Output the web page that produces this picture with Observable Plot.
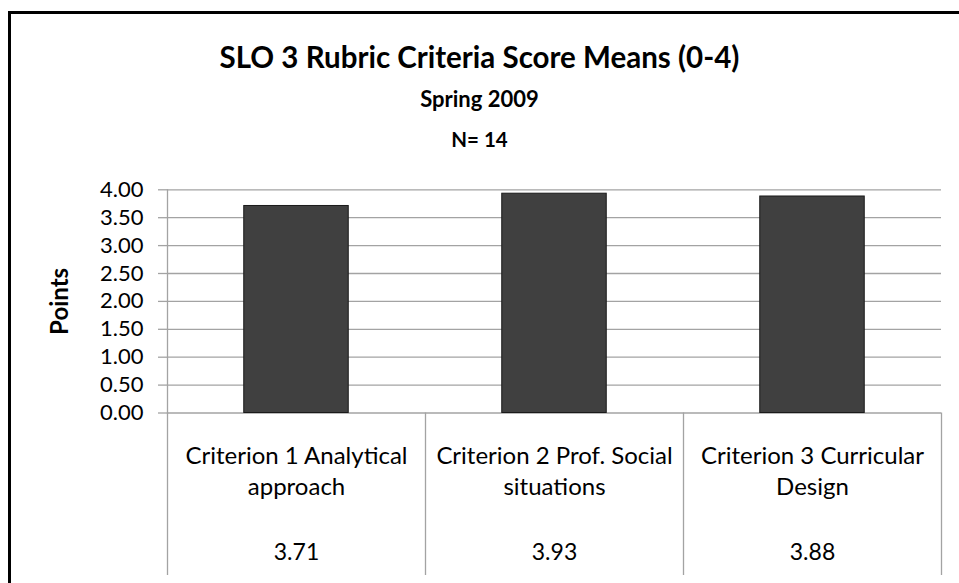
<!DOCTYPE html>
<html>
<head>
<meta charset="utf-8">
<script src="https://cdn.jsdelivr.net/npm/d3@7"></script>
<script src="https://cdn.jsdelivr.net/npm/@observablehq/plot@0.6"></script>
<style>
  html, body { margin: 0; padding: 0; background: #fff; width: 959px; height: 583px; overflow: hidden; }
  #frame { position: absolute; left: 8px; top: 11px; width: 1000px; height: 700px; border: 3px solid #000; box-sizing: border-box; }
  .ttl { position: absolute; left: 0; width: 959px; text-align: center; font-family: Lato, sans-serif; font-weight: bold; line-height: 1; color: #000; white-space: pre; }
  #chart { position: absolute; left: 0; top: 0; }
</style>
</head>
<body>
<div id="frame"></div>
<div class="ttl" id="t1" style="top:41.5px; font-size:29.5px;"></div>
<div class="ttl" id="t2" style="top:87.5px; font-size:22px;"></div>
<div class="ttl" id="t3" style="top:128.5px; font-size:20.5px;"></div>
<div id="chart"></div>
<script>
const titleText = "SLO 3 Rubric Criteria Score Means (0-4)";
const subtitleText = "Spring 2009";
const countText = "N= 14";
const yLabel = "Points";

const categories = [
  "Criterion 1 Analytical approach",
  "Criterion 2 Prof. Social situations",
  "Criterion 3 Curricular Design"
];
const categoryLabels = [
  "Criterion 1 Analytical\napproach",
  "Criterion 2 Prof. Social\nsituations",
  "Criterion 3 Curricular\nDesign"
];
const means = [3.71, 3.93, 3.88];
const yTicks = [0, 0.5, 1, 1.5, 2, 2.5, 3, 3.5, 4];

document.getElementById("t1").textContent = titleText;
document.getElementById("t2").textContent = subtitleText;
document.getElementById("t3").textContent = countText;

const W = 959, H = 583;
const mL = 167, mR = 18, mT = 189.3, mB = 170.5;
const step = (W - mL - mR) / categories.length;
const tableDepth = 162.5;
const gridColor = "#a3a3a3";

const data = categories.map((c, i) => ({category: c, label: categoryLabels[i], mean: means[i]}));

const chart = Plot.plot({
  width: W,
  height: H,
  marginTop: mT,
  marginBottom: mB,
  marginLeft: mL,
  marginRight: mR,
  style: {fontFamily: "Lato, sans-serif", fontSize: "20px", color: "#000", background: "transparent", overflow: "visible"},
  x: {domain: categories, paddingInner: 0.595, paddingOuter: 0.2975, round: false, axis: null},
  y: {domain: [0, 4], axis: null},
  marks: [
    Plot.gridY(yTicks, {stroke: gridColor, strokeOpacity: 1, strokeWidth: 1.3}),
    Plot.axisY({ticks: yTicks, tickSize: 9, tickPadding: 15, tickFormat: d => d.toFixed(2),
      stroke: gridColor, strokeWidth: 1.3, fill: "#000", fontSize: 22, label: null}),
    Plot.barY(data, {x: "category", y: "mean", fill: "#404040", stroke: "#1a1a1a", strokeWidth: 1}),
    Plot.frame({anchor: "left", stroke: gridColor, strokeWidth: 1.3}),
    Plot.axisX({ticks: categories, tickSize: tableDepth, dx: step / 2, tickFormat: () => "",
      stroke: gridColor, strokeWidth: 1.3, label: null}),
    Plot.axisX({ticks: categories.slice(0, 1), tickSize: tableDepth, dx: -step / 2, tickFormat: () => "",
      stroke: gridColor, strokeWidth: 1.3, label: null}),
    Plot.text(data, {x: "category", frameAnchor: "bottom", dy: 56.5, text: "label",
      lineAnchor: "middle", lineHeight: 1.31, fontSize: 24, fill: "#000"}),
    Plot.text(data, {x: "category", frameAnchor: "bottom", dy: 140, text: d => d.mean.toFixed(2),
      lineAnchor: "middle", fontSize: 23, fill: "#000"}),
    Plot.text([yLabel], {frameAnchor: "left", dx: -107, rotate: -90, text: d => d,
      textAnchor: "middle", fontWeight: "bold", fontSize: 24, fill: "#000", lineAnchor: "middle"})
  ]
});
document.getElementById("chart").appendChild(chart);
</script>
</body>
</html>
